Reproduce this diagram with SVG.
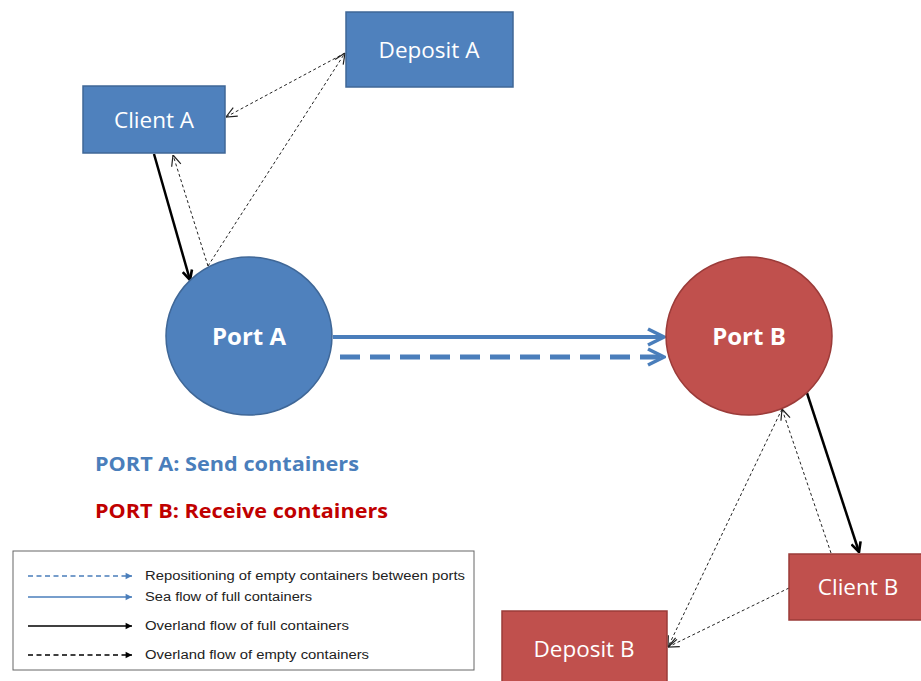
<svg xmlns="http://www.w3.org/2000/svg" width="921" height="681" viewBox="0 0 921 681">
<style>
.blue{fill:#4f81bd;stroke:#3f6797;stroke-width:1.5}
.red{fill:#c0504d;stroke:#9b3b39;stroke-width:1.5}
.lbl{font-family:"Open Sans","Liberation Sans",sans-serif;fill:#fff;font-size:22.5px;text-anchor:middle}
.port{font-family:"Open Sans","Liberation Sans",sans-serif;fill:#fff;font-size:24px;font-weight:bold;text-anchor:middle}
.thin{fill:none;stroke:#222;stroke-width:1;stroke-dasharray:3,2.5;marker-end:url(#mThin)}
.full{fill:none;stroke:#000;stroke-width:2.5;marker-end:url(#mBlack)}
.leg{font-family:"Liberation Sans",sans-serif;font-size:12.5px;fill:#222}
.title{font-family:"Open Sans","Liberation Sans",sans-serif;font-size:20px;font-weight:bold}
</style>
<defs>
<marker id="mThin" viewBox="0 0 10 10" refX="10" refY="5" markerWidth="12" markerHeight="12" markerUnits="userSpaceOnUse" orient="auto">
<path d="M1,1 L10,5 L1,9" fill="none" stroke="#222" stroke-width="1"/>
</marker>
<marker id="mBlack" viewBox="0 0 10 10" refX="9" refY="5" markerWidth="12" markerHeight="12" markerUnits="userSpaceOnUse" orient="auto">
<path d="M1,1 L9,5 L1,9" fill="none" stroke="#000" stroke-width="2.2"/>
</marker>
<marker id="mBlue" viewBox="0 0 10 10" refX="9" refY="5" markerWidth="20" markerHeight="20" markerUnits="userSpaceOnUse" orient="auto">
<path d="M1,1 L9,5 L1,9" fill="none" stroke="#4a7ebb" stroke-width="1.8"/>
</marker>
<marker id="mLegBlue" viewBox="0 0 10 10" refX="9" refY="5" markerWidth="8" markerHeight="8" markerUnits="userSpaceOnUse" orient="auto">
<path d="M1,1 L9,5 L1,9 Z" fill="#4a7ebb"/>
</marker>
<marker id="mLegBlack" viewBox="0 0 10 10" refX="9" refY="5" markerWidth="8" markerHeight="8" markerUnits="userSpaceOnUse" orient="auto">
<path d="M1,1 L9,5 L1,9 Z" fill="#000"/>
</marker>
</defs>
<rect width="921" height="681" fill="#fff"/>

<g id="connectors">
<line class="full" x1="154" y1="154" x2="190" y2="280"/>
<line class="thin" x1="208" y1="266" x2="173" y2="155"/>
<line class="thin" x1="208" y1="266" x2="345" y2="53"/>
<line class="thin" x1="345" y1="53" x2="226" y2="117"/>
<line x1="333" y1="337" x2="664" y2="337" stroke="#4a7ebb" stroke-width="4" marker-end="url(#mBlue)"/>
<line x1="340" y1="357" x2="664" y2="357" stroke="#4a7ebb" stroke-width="5" stroke-dasharray="20,10" marker-end="url(#mBlue)"/>
<line class="full" x1="807" y1="393" x2="859" y2="552"/>
<line class="thin" x1="831" y1="553" x2="782" y2="409"/>
<line class="thin" x1="782" y1="409" x2="668" y2="647"/>
<line class="thin" x1="789" y1="588" x2="668" y2="647"/>
</g>

<g id="deposit-a">
<rect class="blue" x="346" y="12" width="167" height="75"/>
<text class="lbl" x="429" y="58">Deposit A</text>
</g>
<g id="client-a">
<rect class="blue" x="83" y="86" width="142" height="67"/>
<text class="lbl" x="154" y="128">Client A</text>
</g>
<g id="port-a">
<ellipse class="blue" cx="249" cy="336" rx="83" ry="79"/>
<text class="port" x="249" y="345">Port A</text>
</g>
<g id="port-b">
<ellipse class="red" cx="749" cy="336" rx="83" ry="79"/>
<text class="port" x="749" y="345">Port B</text>
</g>
<g id="client-b">
<rect class="red" x="789" y="554" width="140" height="66"/>
<text class="lbl" x="858" y="595">Client B</text>
</g>
<g id="deposit-b">
<rect class="red" x="502" y="611" width="165" height="80"/>
<text class="lbl" x="584" y="657">Deposit B</text>
</g>

<g id="titles">
<text class="title" x="95" y="471" fill="#4a7ebb" textLength="264" lengthAdjust="spacingAndGlyphs">PORT A: Send containers</text>
<text class="title" x="95" y="518" fill="#c00000" textLength="293" lengthAdjust="spacingAndGlyphs">PORT B: Receive containers</text>
</g>

<g id="legend">
<rect x="13" y="551" width="461" height="119" fill="#fff" stroke="#666" stroke-width="1"/>
<line x1="28" y1="576" x2="132" y2="576" stroke="#4a7ebb" stroke-width="1.5" stroke-dasharray="5,3.5" marker-end="url(#mLegBlue)"/>
<text class="leg" x="145" y="580" textLength="320" lengthAdjust="spacingAndGlyphs">Repositioning of empty containers between ports</text>
<line x1="28" y1="597" x2="132" y2="597" stroke="#4a7ebb" stroke-width="1.5" marker-end="url(#mLegBlue)"/>
<text class="leg" x="145" y="601" textLength="167" lengthAdjust="spacingAndGlyphs">Sea flow of full containers</text>
<line x1="28" y1="626" x2="132" y2="626" stroke="#000" stroke-width="1.5" marker-end="url(#mLegBlack)"/>
<text class="leg" x="145" y="630" textLength="204" lengthAdjust="spacingAndGlyphs">Overland flow of full containers</text>
<line x1="28" y1="655" x2="132" y2="655" stroke="#000" stroke-width="1.5" stroke-dasharray="5,3.5" marker-end="url(#mLegBlack)"/>
<text class="leg" x="145" y="659" textLength="224" lengthAdjust="spacingAndGlyphs">Overland flow of empty containers</text>
</g>
</svg>
